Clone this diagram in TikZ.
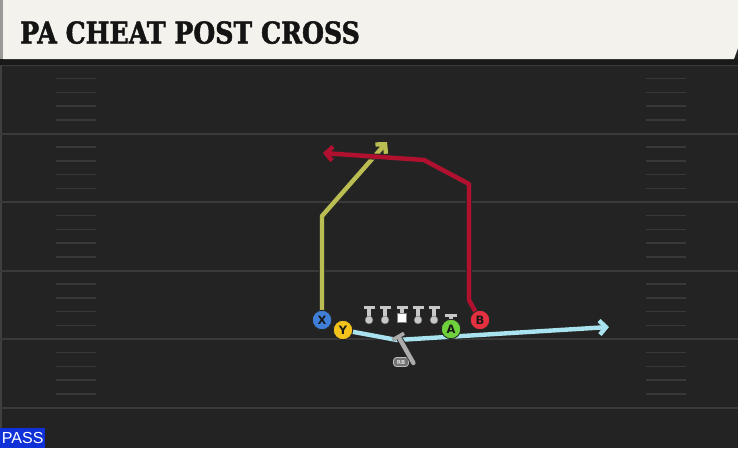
\documentclass[tikz,border=0pt]{standalone}
\usepackage{fontspec}
\setmainfont{DejaVu Sans}
\newfontfamily\titlefont[FakeStretch=0.84,FakeBold=1.6]{DejaVu Serif}
\newfontfamily\passfont{Liberation Sans}
\usetikzlibrary{arrows.meta}
\definecolor{fieldbg}{HTML}{232323}
\definecolor{fieldline}{HTML}{3A3A3A}
\definecolor{hashc}{HTML}{383838}
\definecolor{titlebg}{HTML}{F4F2EC}
\definecolor{xblue}{HTML}{3F7FD8}
\definecolor{yyellow}{HTML}{F3C21B}
\definecolor{agreen}{HTML}{6ED13C}
\definecolor{bred}{HTML}{E5303F}
\definecolor{rolive}{HTML}{B9BD52}
\definecolor{rcrimson}{HTML}{B2102F}
\definecolor{rcyan}{HTML}{A9E3EF}
\definecolor{rgray}{HTML}{ABABAB}
\definecolor{passblue}{HTML}{1030D8}
\definecolor{linem}{HTML}{C8C8C8}
\pgfdeclarelayer{field}
\pgfdeclarelayer{routes}
\pgfsetlayers{field,routes,main}
\tikzset{
  player/.style={circle, minimum size=19.5pt, inner sep=0pt, draw=black!85, line width=0.9pt,
    text=black!90, font=\bfseries\fontsize{11.5}{11.5}\selectfont},
  route/.style={line width=4.4pt, line join=round, line cap=round,
    -{Straight Barb[length=6.5pt,width=14pt]},
    preaction={draw=black!85, line width=6.2pt}},
  fline/.style={draw=fieldline, line width=2pt},
  hash/.style={draw=hashc, line width=1.5pt},
  lman/.style={draw=linem, line width=3.8pt},
}
\begin{document}
\begin{tikzpicture}[x=1pt,y=-1pt]
\useasboundingbox (0,0) rectangle (738,448);
\begin{pgfonlayer}{field}
\fill[fieldbg] (0,0) rectangle (738,448);
\fill[black!90!white] (0,59) rectangle (738,65);
\fill[black!75!white] (0,65) rectangle (2,448);
\draw[fline, line width=1.2pt] (0,65.5) -- (738,65.5);
\foreach \k in {1,...,5} {
  \draw[fline] (0,{65+68.5*\k}) -- (738,{65+68.5*\k});
}
\foreach \k in {0,...,4} {
  \foreach \j in {1,...,4} {
    \draw[hash] (56,{65+68.5*\k+13.7*\j}) -- (96,{65+68.5*\k+13.7*\j});
    \draw[hash] (646,{65+68.5*\k+13.7*\j}) -- (686,{65+68.5*\k+13.7*\j});
  }
}
\fill[titlebg] (3,0) -- (738,0) -- (738,48) -- (734,59) -- (3,59) -- cycle;
\fill[black!40] (0,0) rectangle (3,59);
\end{pgfonlayer}

\node[anchor=base west, inner sep=0pt, text=black!92,
  font=\titlefont\bfseries\fontsize{30}{30}\selectfont] (title) at (20,43.5) {PA CHEAT POST CROSS};

\node[anchor=south west, fill=passblue, minimum width=45pt, minimum height=20pt, inner sep=0pt,
  text=white, font=\passfont\fontsize{16}{16}\selectfont] (pass) at (0,448) {PASS};

% linemen
\foreach \x in {369,385,418,434} {
  \draw[lman] (\x,309) -- (\x,318);
  \draw[lman, line width=3.4pt] ({\x-5.5},307.5) -- ({\x+5.5},307.5);
  \fill[linem, draw=black!60, line width=0.4pt] (\x,320) circle (4);
}
\draw[lman] (402,309) -- (402,315);
\draw[lman, line width=3.4pt] (396.5,307.5) -- (407.5,307.5);
\node[fill=white, draw=black!50, line width=0.4pt, minimum size=9pt, inner sep=0pt] (C) at (402,318) {};

% players
\node[player, fill=xblue] (X) at (322,320) {X};
\node[player, fill=yyellow] (Y) at (343,330) {Y};
\node[player, fill=agreen] (A) at (451,329) {A};
\node[player, fill=bred] (B) at (480,320) {B};
\node[draw=black!25, line width=0.8pt, fill=black!55, rounded corners=3pt, minimum width=15pt, minimum height=9pt,
  inner sep=0pt, text=black!15, font=\bfseries\fontsize{5.5}{5.5}\selectfont] (RB) at (401,362) {RB};

% A's block bar
\draw[lman, line width=3.4pt] (445,315.5) -- (457,315.5);
\draw[lman] (451,316) -- (A.north);

% route points
\coordinate (x1) at (322,216);
\coordinate (x2) at (387,142);
\coordinate (b1) at (469,300);
\coordinate (b2) at (469,184);
\coordinate (b3) at (424,160);
\coordinate (b4) at (323,153);
\coordinate (y1) at (397,340);
\coordinate (y2) at (609,327);
\coordinate (r1) at (397.5,335);

\begin{pgfonlayer}{routes}
\draw[route, draw=rcyan] (Y.center) -- (y1) -- (y2);
\draw[route, draw=rolive] (X.center) -- (x1) -- (x2);
\draw[route, draw=rcrimson] (B.center) -- (b1) -- (b2) -- (b3) -- (b4);
\end{pgfonlayer}
\draw[route, draw=rgray, -{Bar[width=13pt,line width=3.6pt]}] ([xshift=4.5pt,yshift=-1pt]RB.east) -- (r1);
\end{tikzpicture}
\end{document}
